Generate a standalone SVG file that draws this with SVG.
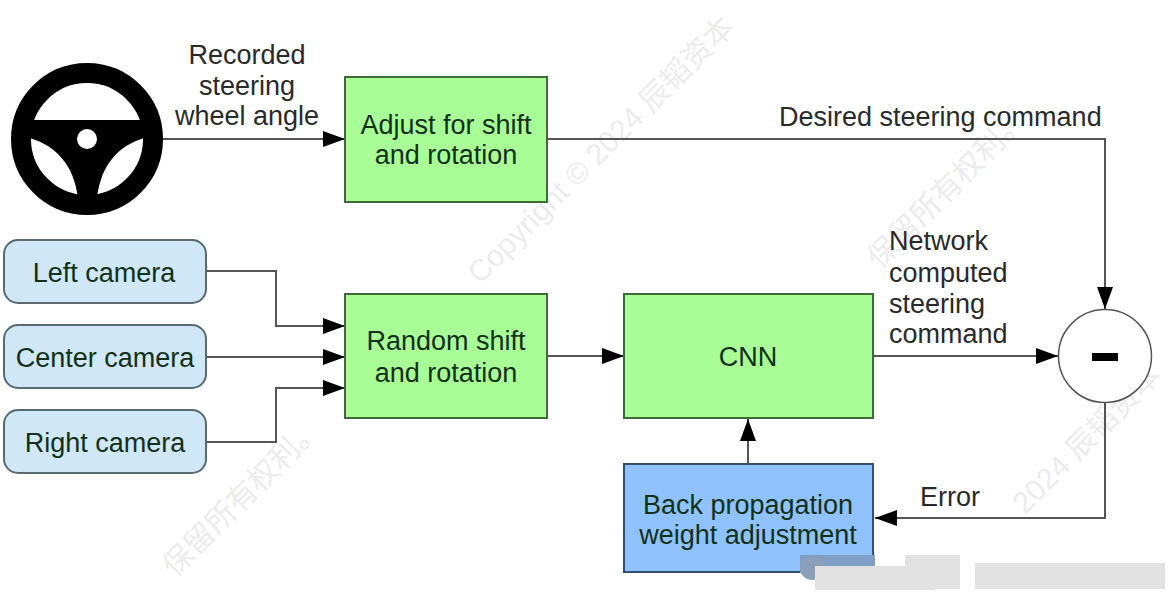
<svg xmlns="http://www.w3.org/2000/svg" width="1174" height="596" viewBox="0 0 1174 596">
<defs>
<style>
text{font-family:"Liberation Sans",Arial,sans-serif;font-size:27px;fill:#2a2a2a;}
.m{text-anchor:middle}
.in{fill:#12301a}
.wm{font-size:30px;fill:#ececec;font-family:"Liberation Sans","Noto Sans CJK SC",sans-serif}
.c{fill:none;stroke:#555;stroke-width:2;}
.g{fill:#a9fd96;stroke:#3f6b3a;stroke-width:2}
.b{fill:#8fc1fb;stroke:#34506f;stroke-width:2}
.cam{fill:#cfe7f6;stroke:#586a74;stroke-width:2}
.sm{fill:#e2e2e2}
</style>
<marker id="a" markerUnits="userSpaceOnUse" markerWidth="24" markerHeight="18" refX="22" refY="8" orient="auto"><path d="M0 0L22 8L0 16z" fill="#000"/></marker>
</defs>
<rect width="1174" height="596" fill="#fff"/>
<g id="watermark">
<text class="wm" transform="translate(480 285) rotate(-45)">Copyright © 2024 辰韬资本</text>
<text class="wm" transform="translate(175 578) rotate(-45)">保留所有权利。</text>
<text class="wm" transform="translate(880 270) rotate(-45)">保留所有权利。</text>
<text class="wm" transform="translate(1025 515) rotate(-45)">2024 辰韬资本</text>
</g>
<g id="connectors">
<path class="c" marker-end="url(#a)" d="M163 139H345"/>
<path class="c" marker-end="url(#a)" d="M547 139H1105V309"/>
<path class="c" marker-end="url(#a)" d="M206 271H276V326H345"/>
<path class="c" marker-end="url(#a)" d="M206 357H345"/>
<path class="c" marker-end="url(#a)" d="M206 442H276V388H345"/>
<path class="c" marker-end="url(#a)" d="M547 356H624"/>
<path class="c" marker-end="url(#a)" d="M873 356H1058"/>
<path class="c" marker-end="url(#a)" d="M748 464V419"/>
<path class="c" marker-end="url(#a)" d="M1105 403V518H875"/>
</g>
<g id="wheel">
<circle cx="87" cy="139" r="66" fill="#fff" stroke="#000" stroke-width="20"/>
<path d="M30 120H144V138C118 146 101 165 97 198H78C74 165 56 146 30 138Z" fill="#000"/>
<circle cx="87" cy="139" r="10" fill="#fff"/>
</g>
<g id="adjust"><rect class="g" x="345" y="77" width="202" height="125"/><text class="m in" x="446" y="134">Adjust for shift</text><text class="m in" x="446" y="164">and rotation</text></g>
<g id="random"><rect class="g" x="345" y="294" width="202" height="124"/><text class="m in" x="446" y="350">Random shift</text><text class="m in" x="446" y="382">and rotation</text></g>
<g id="cnn"><rect class="g" x="624" y="294" width="249" height="124"/><text class="m in" x="748" y="366">CNN</text></g>
<g id="backprop"><rect class="b" x="624" y="464" width="249" height="108"/><text class="m in" x="748" y="514">Back propagation</text><text class="m in" x="748" y="544">weight adjustment</text></g>
<g id="left"><rect class="cam" x="4" y="240" width="202" height="63" rx="14"/><text class="m in" x="104" y="282">Left camera</text></g>
<g id="center"><rect class="cam" x="4" y="325" width="202" height="63" rx="14"/><text class="m in" x="105" y="367">Center camera</text></g>
<g id="right"><rect class="cam" x="4" y="410" width="202" height="63" rx="14"/><text class="m in" x="105" y="452">Right camera</text></g>
<g id="minus"><circle cx="1105" cy="356" r="46.500" fill="#fff" stroke="#555" stroke-width="1.500"/><rect x="1092" y="353" width="26" height="8" fill="#000"/></g>
<g id="labels">
<text class="m" x="247" y="64">Recorded</text><text class="m" x="247" y="95">steering</text><text class="m" x="247" y="125">wheel angle</text>
<text x="779" y="126">Desired steering command</text>
<text x="889" y="250">Network</text><text x="889" y="282">computed</text><text x="889" y="313">steering</text><text x="889" y="343">command</text>
<text x="920" y="506">Error</text>
</g>
<g id="smudge">
<rect x="800" y="555" width="75" height="18" fill="#7f9fc4"/>
<circle cx="812" cy="568" r="12" fill="#8ba0b8"/>
<rect class="sm" x="815" y="566" width="120" height="24"/>
<rect class="sm" x="905" y="555" width="55" height="34"/>
<rect class="sm" x="975" y="563" width="190" height="26"/>
</g>
</svg>
